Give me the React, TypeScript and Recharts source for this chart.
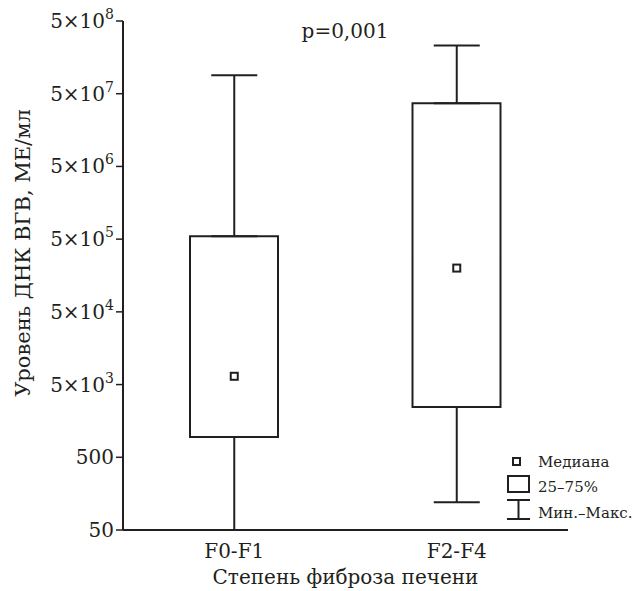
import React from "react"
import {
  ComposedChart, Bar, Scatter, ErrorBar, XAxis, YAxis,
} from "recharts"

const GROUPS = ["F0-F1", "F2-F4"]
const MINS = [50, 120]
const Q1 = [950, 2450]
const MEDIANS = [6500, 200000]
const Q3 = [550000, 37000000]
const MAXS = [90000000, 230000000]

const Y_TICKS = [50, 500, 5000, 50000, 500000, 5000000, 50000000, 500000000]
const LEGEND_ITEMS = ["Медиана", "25–75%", "Мин.–Макс."]

const INK = "#231f20"
const FONT = "DejaVu Serif"

const data = GROUPS.map((name, i) => ({
  name,
  q1: Q1[i],
  q3: Q3[i],
  median: MEDIANS[i],
  box: [Q1[i], Q3[i]],
  upErr: [0, MAXS[i] - Q3[i]],
  downErr: [Q1[i] - MINS[i], 0],
}))

function YTick({ x, y, payload }: any) {
  const v = payload.value as number
  if (v < 5000) {
    return (
      <text x={x} y={y} dy={7} textAnchor="end" fontSize={20} fontFamily={FONT} fill={INK}>
        {v}
      </text>
    )
  }
  const exp = Math.round(Math.log10(v / 5))
  return (
    <text x={x} y={y} dy={7} textAnchor="end" fontSize={20} fontFamily={FONT} fill={INK}>
      <tspan>5×10</tspan>
      <tspan dy={-9} fontSize={14}>{exp}</tspan>
    </text>
  )
}

function XTick({ x, y, payload }: any) {
  return (
    <text x={x} y={y} dy={20} textAnchor="middle" fontSize={20} fontFamily={FONT} fill={INK}>
      {payload.value}
    </text>
  )
}

function MedianDot({ cx, cy }: any) {
  return <rect x={cx - 3.5} y={cy - 3.5} width={7} height={7} fill="#fff" stroke={INK} strokeWidth={2} />
}

function LegendBox() {
  return (
    <svg width={140} height={80} style={{ display: "block" }}>
      <rect x={13} y={8} width={7} height={7} fill="#fff" stroke={INK} strokeWidth={2} />
      <rect x={8} y={26} width={21} height={16} fill="#fff" stroke={INK} strokeWidth={2} />
      <line x1={7} x2={30} y1={50} y2={50} stroke={INK} strokeWidth={2} />
      <line x1={18.5} x2={18.5} y1={50} y2={69} stroke={INK} strokeWidth={2} />
      <line x1={7} x2={30} y1={69} y2={69} stroke={INK} strokeWidth={2} />
      {LEGEND_ITEMS.map((t, i) => (
        <text key={t} x={38} y={[17, 42, 68][i]} fontSize={15} fontFamily={FONT} fill={INK}>
          {t}
        </text>
      ))}
    </svg>
  )
}

export default function App() {
  return (
    <div style={{ position: "absolute", left: 0, top: 0, width: 640, height: 591, background: "#fff" }}>
      <ComposedChart
        width={640}
        height={591}
        data={data}
        margin={{ top: 21, right: 72, bottom: 0, left: 0 }}
        barCategoryGap={0}
      >
        <XAxis
          dataKey="name"
          type="category"
          height={61}
          tickLine={false}
          axisLine={{ stroke: INK, strokeWidth: 2 }}
          tick={<XTick />}
          label={({ viewBox }: any) => (
            <text
              x={viewBox.x + viewBox.width / 2}
              y={584}
              textAnchor="middle"
              fontSize={20}
              fontFamily={FONT}
              fill={INK}
            >
              Степень фиброза печени
            </text>
          )}
        />
        <YAxis
          type="number"
          scale="log"
          domain={[50, 500000000]}
          ticks={Y_TICKS}
          interval={0}
          width={123}
          tickSize={7}
          tickMargin={2}
          tickLine={{ stroke: INK, strokeWidth: 1.5 }}
          axisLine={{ stroke: INK, strokeWidth: 2 }}
          tick={<YTick />}
          allowDataOverflow
          label={() => (
            <text
              x={23}
              y={253}
              transform="rotate(-90 23 253)"
              textAnchor="middle"
              dominantBaseline="central"
              fontSize={21}
              fontFamily={FONT}
              fill={INK}
            >
              Уровень ДНК ВГВ, МЕ/мл
            </text>
          )}
        />
        <Scatter dataKey="q3" shape={() => <g />} isAnimationActive={false}>
          <ErrorBar dataKey="upErr" direction="y" width={23} stroke={INK} strokeWidth={2} />
        </Scatter>
        <Scatter dataKey="q1" shape={() => <g />} isAnimationActive={false}>
          <ErrorBar dataKey="downErr" direction="y" width={23} stroke={INK} strokeWidth={2} />
        </Scatter>
        <Bar dataKey="box" barSize={88} fill="#fff" stroke={INK} strokeWidth={2} isAnimationActive={false} />
        <Scatter dataKey="median" shape={<MedianDot />} isAnimationActive={false} />
        <text x={345} y={38} textAnchor="middle" fontSize={20} fontFamily={FONT} fill={INK}>
          p=0,001
        </text>
      </ComposedChart>
      <div style={{ position: "absolute", left: 500, top: 450 }}>
        <LegendBox />
      </div>
    </div>
  )
}
